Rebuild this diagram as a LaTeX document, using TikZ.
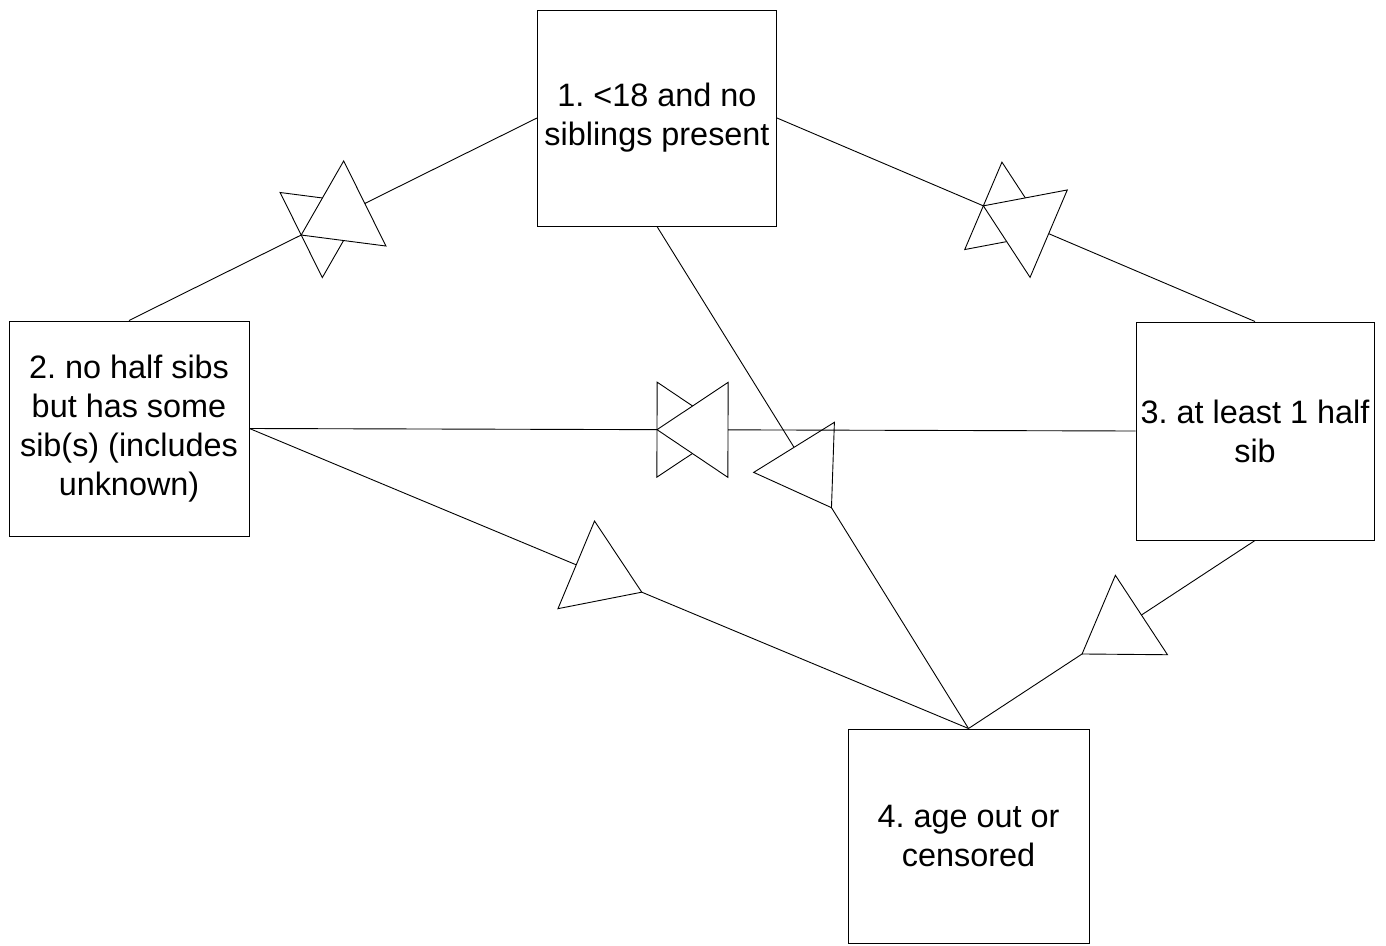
\documentclass[tikz,border=0pt]{standalone}
\usepackage{fontspec}
\setmainfont{Liberation Sans}
\usetikzlibrary{calc}
\frenchspacing

\tikzset{
  box/.style={draw=black, line width=1pt, fill=white, inner sep=0pt,
              align=center, font=\fontsize{32.4}{39}\selectfont},
  link/.style={draw=black, line width=0.9pt},
  head/.style={draw=black, fill=white, line width=0.9pt, line join=miter},
}

% open arrowhead centred on the middle of #1--#2, tip towards #2
\newcommand\midhead[2]{%
  \path ($(#1)!0.5!(#2)$) coordinate (hm);
  \path ($(hm)!35.5pt!(#2)$) coordinate (ht);
  \path ($(hm)!35.5pt!180:(#2)$) coordinate (hb);
  \path ($(hb)!47.5pt!90:(ht)$) coordinate (hl);
  \path ($(hb)!47.5pt!-90:(ht)$) coordinate (hr);
  \draw[head] (ht) -- (hl) -- (hr) -- cycle;
}

\begin{document}
\begin{tikzpicture}[x=1pt, y=-1pt]
  \useasboundingbox (0,0) rectangle (1386,945);

  % states
  \node[box, minimum width=239pt, minimum height=216pt] (b1) at (657,118)
    {1. <18 and no\\siblings present};
  \node[box, minimum width=240pt, minimum height=215pt] (b2) at (129,428.5)
    {2. no half sibs\\but has some\\sib(s) (includes\\unknown)};
  \node[box, minimum width=238pt, minimum height=218pt] (b3) at (1255,431)
    {3. at least 1 half\\sib};
  \node[box, minimum width=241pt, minimum height=214pt] (b4) at (968.5,836)
    {4. age out or\\censored};

  % 1 <-> 2
  \draw[link] (b1.west) -- (b2.north);
  \midhead{b2.north}{b1.west}
  \midhead{b1.west}{b2.north}

  % 1 <-> 3
  \draw[link] (b1.east) -- (b3.north);
  \midhead{b1.east}{b3.north}
  \midhead{b3.north}{b1.east}

  % 1 -> 4
  \draw[link] (b1.south) -- (b4.north);
  \midhead{b1.south}{b4.north}

  % 2 <-> 3
  \draw[link] (b2.east) -- (b3.west);
  \midhead{b2.east}{b3.west}
  \midhead{b3.west}{b2.east}

  % 2 -> 4
  \draw[link] (b2.east) -- (b4.north);
  \midhead{b2.east}{b4.north}

  % 3 -> 4
  \draw[link] (b3.south) -- (b4.north);
  \midhead{b3.south}{b4.north}
\end{tikzpicture}
\end{document}
